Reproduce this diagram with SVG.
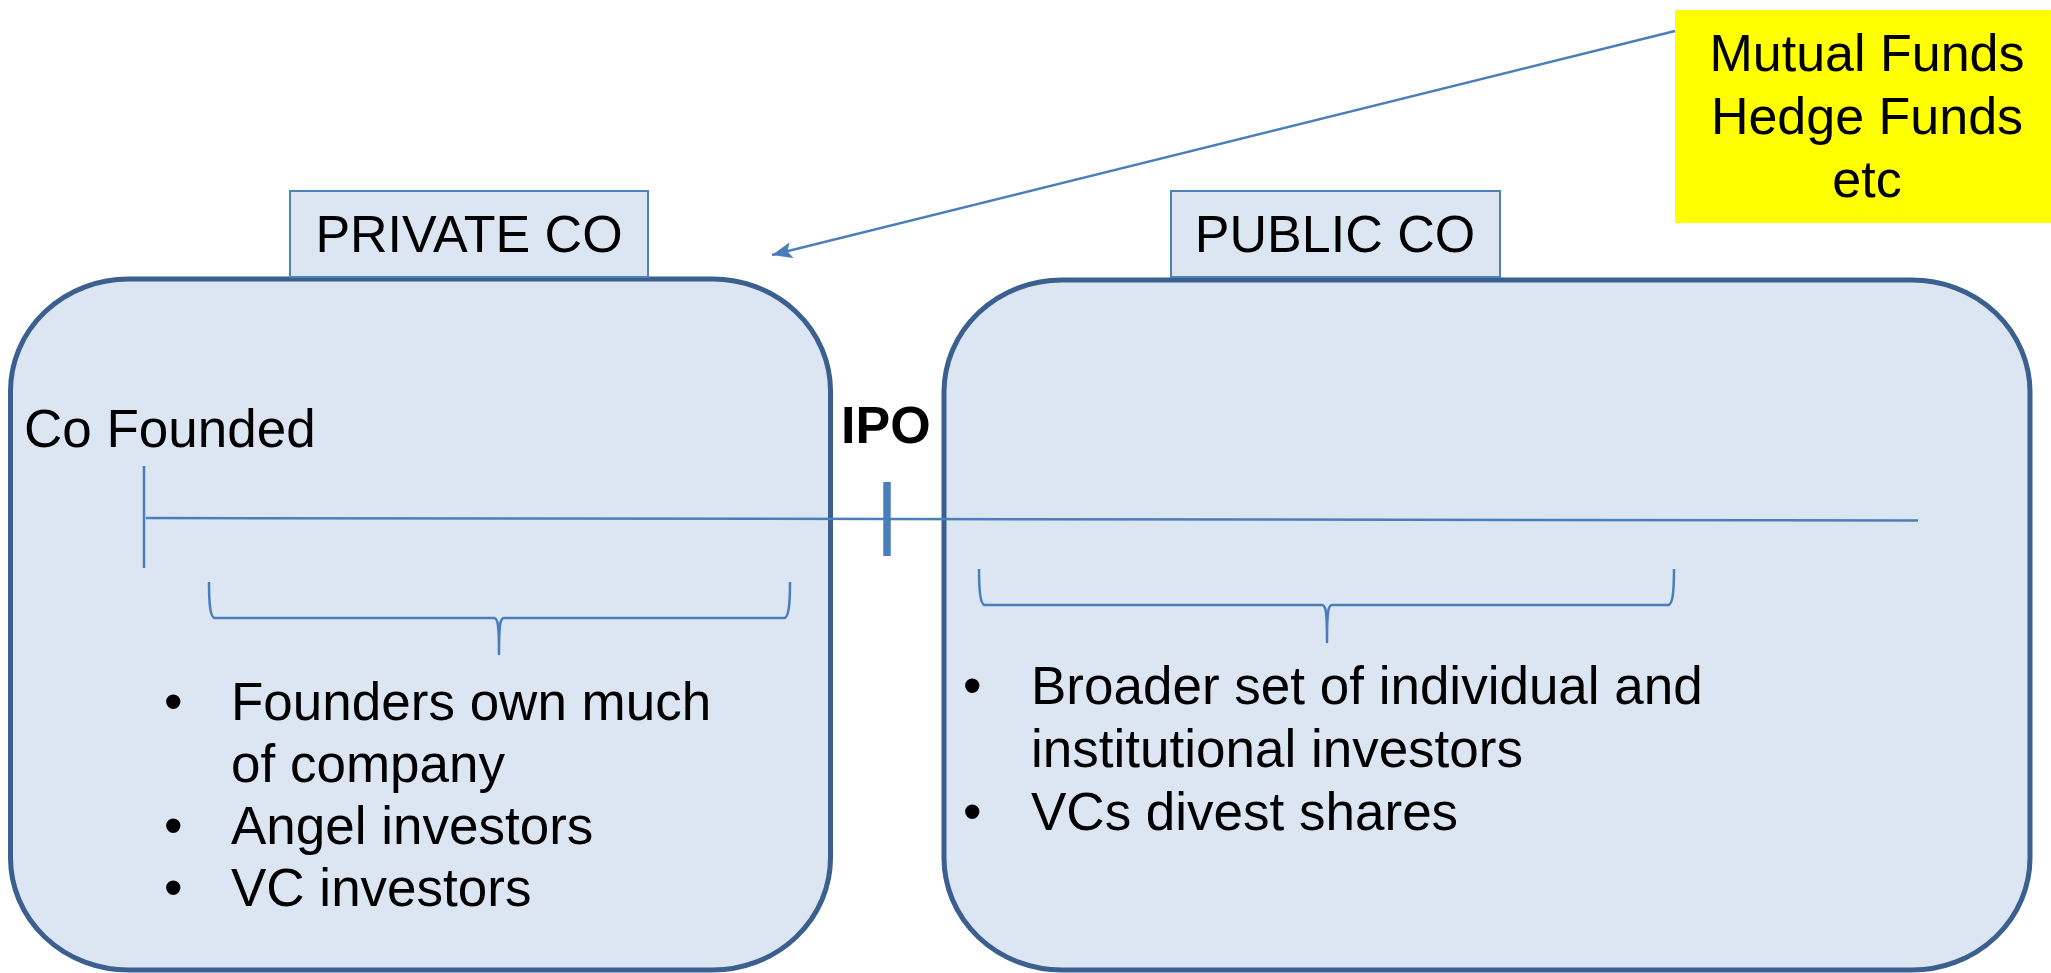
<svg xmlns="http://www.w3.org/2000/svg" width="2051" height="973" viewBox="0 0 2051 973">
  <style>
    .stage { fill: #dce6f2; stroke: #3b5f8e; stroke-width: 5; }
    .tag { fill: #dce6f2; stroke: #4f81bd; stroke-width: 2; }
    .txt { font-family: "Liberation Sans", Arial, sans-serif; font-size: 52px; fill: #000; }
    .body { font-size: 53px; }
    .bold { font-weight: bold; }
    .line { fill: none; stroke: #4a7ebb; stroke-width: 2.5; }
    .brace { fill: none; stroke: #4a7ebb; stroke-width: 2.5; stroke-linejoin: round; }
  </style>
  <defs>
    <marker id="arrowHead" markerUnits="userSpaceOnUse" markerWidth="22" markerHeight="18" refX="20" refY="8" orient="auto">
      <path d="M0,0 L20,8 L0,16 L4,8 Z" fill="#4a7ebb"/>
    </marker>
  </defs>
  <rect width="2051" height="973" fill="#ffffff"/>

  <!-- Private company stage -->
  <g id="private-co">
    <rect class="stage" x="10.5" y="279" width="820" height="691" rx="118" ry="112"/>
    <rect class="tag" x="290" y="191" width="358" height="86"/>
    <text class="txt" x="469" y="252" text-anchor="middle">PRIVATE CO</text>
    <text class="txt body" x="24" y="447">Co Founded</text>
    <text class="txt body" x="164" y="720">•</text>
    <text class="txt body" x="231" y="720">Founders own much</text>
    <text class="txt body" x="231" y="782">of company</text>
    <text class="txt body" x="164" y="844">•</text>
    <text class="txt body" x="231" y="844">Angel investors</text>
    <text class="txt body" x="164" y="906">•</text>
    <text class="txt body" x="231" y="906">VC investors</text>
  </g>

  <!-- Public company stage -->
  <g id="public-co">
    <rect class="stage" x="944" y="280" width="1086" height="690" rx="118" ry="112"/>
    <rect class="tag" x="1171" y="191" width="329" height="86"/>
    <text class="txt" x="1335" y="252" text-anchor="middle">PUBLIC CO</text>
    <text class="txt body" x="963" y="704">•</text>
    <text class="txt body" x="1031" y="704">Broader set of individual and</text>
    <text class="txt body" x="1031" y="767">institutional investors</text>
    <text class="txt body" x="963" y="830">•</text>
    <text class="txt body" x="1031" y="830">VCs divest shares</text>
  </g>

  <!-- IPO marker -->
  <g id="ipo">
    <text class="txt bold" x="841" y="443">IPO</text>
  </g>

  <!-- Investor callout -->
  <g id="funds">
    <rect x="1675" y="10" width="376" height="213" fill="#ffff00"/>
    <text class="txt" x="1867" y="71" text-anchor="middle">Mutual Funds</text>
    <text class="txt" x="1867" y="134" text-anchor="middle">Hedge Funds</text>
    <text class="txt" x="1867" y="197" text-anchor="middle">etc</text>
  </g>

  <!-- Timeline, ticks, braces and the callout arrow -->
  <g id="connectors">
    <line class="line" x1="146" y1="518" x2="1918" y2="520.5"/>
    <line class="line" x1="144" y1="466" x2="144" y2="568"/>
    <line x1="887" y1="482" x2="887" y2="556" stroke="#4a7ebb" stroke-width="7.5"/>
    <path class="brace" d="M209,582 C209,602 210,618 215,618 L494,618 C498,618 499,626 499,654 C499,626 500,618 504,618 L784,618 C789,618 790,602 790,582"/>
    <path class="brace" d="M979,569 C979,589 980,605 985,605 L1322,605 C1326,605 1327,613 1327,642 C1327,613 1328,605 1332,605 L1668,605 C1673,605 1674,589 1674,569"/>
    <line class="line" x1="1675" y1="31" x2="772" y2="255" marker-end="url(#arrowHead)"/>
  </g>
</svg>
